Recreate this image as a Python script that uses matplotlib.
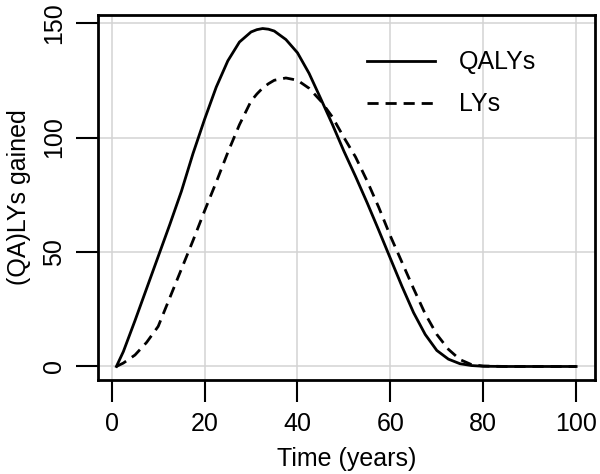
import numpy as np
import matplotlib
matplotlib.use("Agg")
import matplotlib.pyplot as plt

plt.rcParams['font.family'] = ['Liberation Sans', 'DejaVu Sans']

# values
years = [1, 2.5, 5, 7.5, 10, 12.5, 15, 17.5, 20, 22.5, 25, 27.5, 30, 31.25,
         32.5, 33.75, 35, 37.5, 40, 42.5, 45, 47.5, 50, 52.5, 55, 57.5, 60,
         62.5, 65, 67.5, 70, 72.5, 75, 77.5, 80, 85, 90, 95, 100]

qalys = [0, 6.5, 20, 34, 48, 62, 76.5, 93, 108, 122, 133.5, 141.7, 146.1,
         147.1, 147.6, 147.3, 146.5, 142.8, 137, 128, 117, 105.8, 94, 83,
         71.5, 59.5, 47.2, 35, 23.5, 14, 7, 3.2, 1.2, 0.4, 0.1, 0, 0, 0, 0]

lys = [0, 1.5, 5, 10.5, 17.5, 30, 42.5, 55, 68, 80.5, 93.5, 105.6, 115.9,
       119, 121.6, 123.5, 125, 126, 125, 121.5, 116, 109, 100, 91.5, 81,
       69.5, 57, 45.5, 34, 23, 14, 7.5, 3, 0.8, 0.2, 0, 0, 0, 0]

x_ticks = [0, 20, 40, 60, 80, 100]
y_ticks = [0, 50, 100, 150]

fs = 18

fig = plt.figure(figsize=(6.0, 4.74), dpi=100)
ax = fig.add_axes([98 / 600, (474 - 380) / 474, (594.5 - 98) / 600, (380 - 15) / 474])

# grid first, like abline/grid in R
for xt in x_ticks:
    ax.axvline(xt, color="lightgray", lw=1.1, zorder=1)
for yt in y_ticks:
    ax.axhline(yt, color="lightgray", lw=1.1, zorder=1)

ax.plot(years, qalys, color="black", lw=2.0, label="QALYs", zorder=3)
ax.plot(years, lys, color="black", lw=2.0, linestyle=(0, (4, 2.5)), label="LYs", zorder=3)

# R style 4% padding
x_all = np.array(years)
y_all = np.concatenate([qalys, lys])
xpad = 0.04 * (x_all.max() - x_all.min())
ypad = 0.04 * (y_all.max() - y_all.min())
ax.set_xlim(x_all.min() - xpad, x_all.max() + xpad)
ax.set_ylim(y_all.min() - ypad, y_all.max() + ypad)

ax.set_xticks(x_ticks)
ax.set_yticks(y_ticks)
ax.tick_params(direction="out", length=16, width=1.5, labelsize=fs, pad=7)
for lab in ax.get_yticklabels():
    lab.set_rotation(90)
    lab.set_va("center")

for sp in ax.spines.values():
    sp.set_linewidth(2.0)

ax.set_xlabel("Time (years)", fontsize=fs, labelpad=8)
ax.set_ylabel("(QA)LYs gained", fontsize=fs)
ax.yaxis.set_label_coords(-0.135, 0.5)

ax.legend(loc="upper left", bbox_to_anchor=(0.542, 0.903), frameon=False,
          fontsize=fs, handlelength=2.72, handletextpad=0.96, labelspacing=0.72,
          borderpad=0, borderaxespad=0)

fig.savefig("out.png", dpi=100)
